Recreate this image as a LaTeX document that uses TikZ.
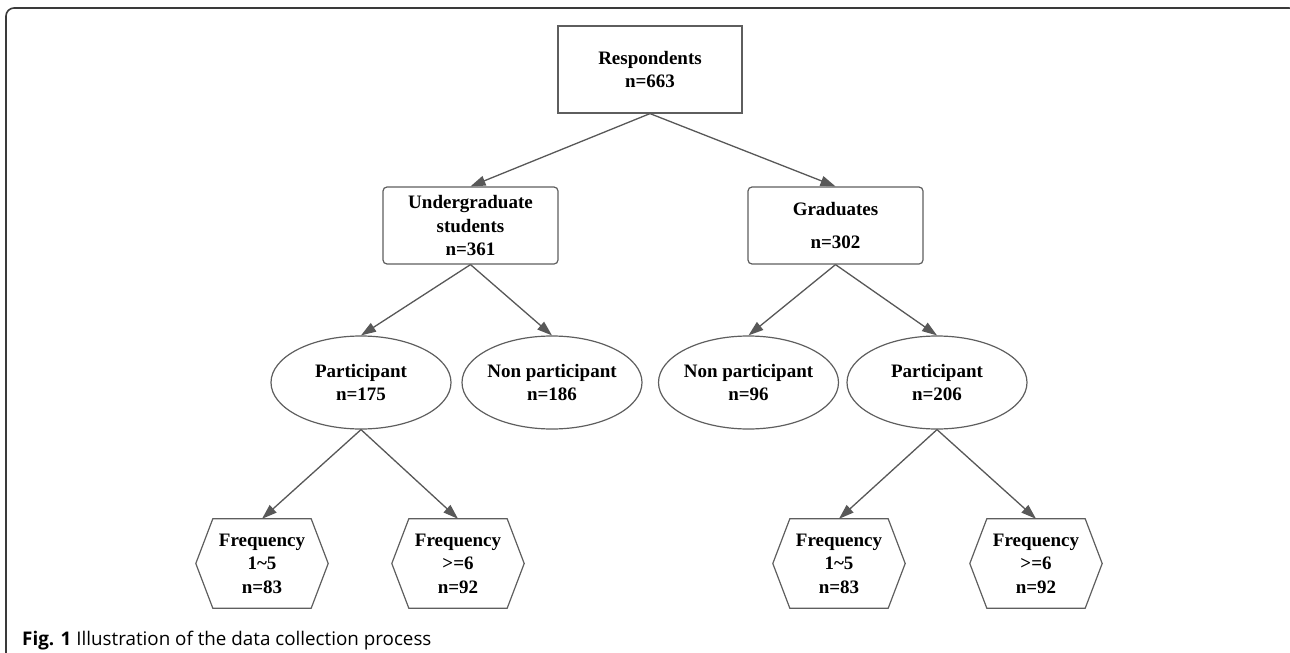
\documentclass[tikz,border=0pt]{standalone}
\usepackage{fontspec}
\setmainfont{Liberation Serif}
\newfontfamily\capfont{Open Sans}
\usetikzlibrary{shapes.geometric,arrows.meta}
\definecolor{linegray}{HTML}{5E5E5E}
\definecolor{edgegray}{HTML}{585858}
\definecolor{framegray}{HTML}{3A3A3A}
\begin{document}
\begin{tikzpicture}[x=1pt,y=-1pt,
  nodeline/.style={draw=linegray, line width=1.2pt},
  lbl/.style={font=\bfseries\fontsize{19}{23.5}\selectfont, align=center, text=black, inner sep=0pt},
  sqbox/.style={nodeline, lbl, rectangle, minimum width=184pt, minimum height=87pt},
  rbox/.style={nodeline, lbl, rectangle, rounded corners=4pt, minimum width=175pt, minimum height=77pt},
  oval/.style={nodeline, lbl, ellipse, minimum width=180pt, minimum height=93pt, inner xsep=-6pt},
  hexbox/.style={lbl, rectangle, minimum width=132pt, minimum height=89pt},
  edge/.style={draw=edgegray, line width=1.3pt, -{Triangle[length=15pt,width=10pt]}, fill=edgegray},
]
\useasboundingbox (0,0) rectangle (1290,653);
\begin{scope}
\clip (0,0) rectangle (1290,653);
\draw[line width=1.6pt, draw=framegray, rounded corners=8pt] (6,8) rectangle (1297,666);
\end{scope}

\node[sqbox] (resp) at (650,69.5) {Respondents\\n=663};
\node[rbox] (ug) at (470.5,225.5) {Undergraduate\\students\\n=361};
\node[rbox] (gr) at (835.5,225.5) {Graduates\\[9.5pt]n=302};

\node[oval] (pl) at (361,382.5) {Participant\\n=175};
\node[oval] (npl) at (552,382.5) {Non participant\\n=186};
\node[oval] (npr) at (748.5,382.5) {Non participant\\n=96};
\node[oval] (pr) at (937,382.5) {Participant\\n=206};

\node[hexbox] (h1) at (262,563.5) {Frequency\\1\textasciitilde5\\n=83};
\node[hexbox] (h2) at (458,563.5) {Frequency\\>=6\\n=92};
\node[hexbox] (h3) at (839,563.5) {Frequency\\1\textasciitilde5\\n=83};
\node[hexbox] (h4) at (1036,563.5) {Frequency\\>=6\\n=92};

\foreach \h in {h1,h2,h3,h4}{
  \draw[nodeline, line join=miter] ([xshift=17pt]\h.north west) -- ([xshift=-17pt]\h.north east) -- (\h.east)
    -- ([xshift=-17pt]\h.south east) -- ([xshift=17pt]\h.south west) -- (\h.west) -- cycle;
}

\draw[edge] (resp.south) -- (ug.north);
\draw[edge] (resp.south) -- (gr.north);
\draw[edge] (ug.south) -- (pl.north);
\draw[edge] (ug.south) -- (npl.north);
\draw[edge] (gr.south) -- (npr.north);
\draw[edge] (gr.south) -- (pr.north);
\draw[edge] (pl.south) -- (h1.north);
\draw[edge] (pl.south) -- (h2.north);
\draw[edge] (pr.south) -- (h3.north);
\draw[edge] (pr.south) -- (h4.north);

\node[anchor=base west, inner sep=0pt] (cap) at (22,645) {\capfont\fontsize{18.8}{22}\selectfont\textbf{Fig. 1} Illustration of the data collection process};
\end{tikzpicture}
\end{document}
